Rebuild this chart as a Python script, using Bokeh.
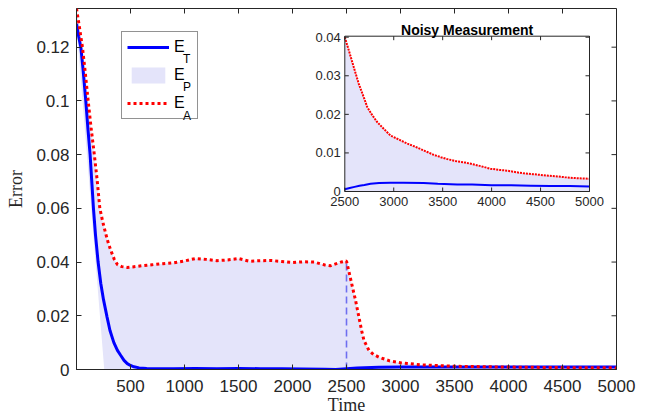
import math
from bokeh.plotting import figure
from bokeh.models import Range1d, FixedTicker, Legend, LegendItem
from bokeh.core.properties import value
from bokeh.embed import file_html
from bokeh.resources import INLINE

# ---------------- main plot data ----------------
T_TRUE = [0, 20, 40, 60, 86, 105, 126, 140, 157, 176, 200, 225, 250, 283, 310,
          346, 379, 410, 440, 470, 500, 532, 580, 650, 750, 900, 1100, 1300,
          1500, 1700, 1900, 2100, 2300, 2400, 2500, 2600, 2800, 3000, 3500,
          4000, 4500, 5000]
E_T = [0.1287, 0.124, 0.120, 0.112, 0.100, 0.090, 0.080, 0.071, 0.060, 0.050,
       0.040, 0.032, 0.026, 0.0195, 0.0145, 0.010, 0.0071, 0.0052, 0.0034,
       0.0022, 0.0015, 0.0010, 0.0006, 0.0004, 0.0003, 0.0003, 0.0004, 0.0003,
       0.0004, 0.0003, 0.0003, 0.0002, 0.0001, 0.0000, 0.0003, 0.0006, 0.0008,
       0.0009, 0.0009, 0.0009, 0.0009, 0.0009]

T_ADAPT = [0, 25, 55, 80, 108, 135, 165, 190, 216, 243, 271, 295, 318, 350,
           380, 420, 470, 520, 600, 700, 800, 900, 1000, 1100, 1200, 1300,
           1400, 1500, 1600, 1700, 1800, 1900, 2000, 2100, 2200, 2300, 2350,
           2400, 2450, 2500, 2555, 2584, 2615, 2640, 2662, 2708, 2750, 2800,
           2900, 3000, 3200, 3500, 4000, 4500, 5000]
E_A = [0.1344, 0.128, 0.120, 0.111, 0.100, 0.090, 0.080, 0.071, 0.060, 0.055,
       0.0505, 0.047, 0.0443, 0.041, 0.039, 0.0383, 0.0380, 0.0382, 0.0386,
       0.0390, 0.0394, 0.0397, 0.0404, 0.0413, 0.0410, 0.0405, 0.0408, 0.0413,
       0.0403, 0.0405, 0.0406, 0.0402, 0.0398, 0.0401, 0.0400, 0.0389, 0.0386,
       0.0393, 0.0400, 0.0404, 0.0307, 0.0257, 0.0195, 0.0145, 0.0108, 0.0071,
       0.0056, 0.0046, 0.0032, 0.0025, 0.0017, 0.0012, 0.0009, 0.0007, 0.0006]

# lower bound of the predicted-error band E_P
T_PLOW = [0, 257, 5000]
E_PLOW = [0.128, 0.0, 0.0]

SWITCH_T = 2500
X_LIM = [0, 5000]

X_TICKS = [500, 1000, 1500, 2000, 2500, 3000, 3500, 4000, 4500, 5000]
X_TICK_LABELS = ["500", "1000", "1500", "2000", "2500", "3000", "3500",
                 "4000", "4500", "5000"]
Y_TICKS = [0, 0.02, 0.04, 0.06, 0.08, 0.1, 0.12]
Y_TICK_LABELS = ["0", "0.02", "0.04", "0.06", "0.08", "0.1", "0.12"]
X_TITLE = "Time"
Y_TITLE = "Error"

LEGEND_BASE = "E"
LEGEND_SUBS = ["T", "P", "A"]

# ---------------- inset data (noisy measurement) ----------------
IN_T_TRUE = [2500, 2550, 2600, 2650, 2700, 2763, 2850, 2967, 3100, 3305, 3450,
             3648, 3800, 4000, 4200, 4400, 4600, 4800, 5000]
IN_E_T = [0.0006, 0.0009, 0.0012, 0.0015, 0.0017, 0.0020, 0.0022, 0.0023,
          0.0023, 0.0022, 0.0020, 0.0018, 0.0018, 0.0016, 0.0016, 0.0015,
          0.0014, 0.0014, 0.0013]
IN_T_ADAPT = [2500, 2541, 2592, 2643, 2700, 2729, 2780, 2831, 2900, 2967, 3050,
              3140, 3220, 3310, 3400, 3480, 3560, 3650, 3730, 3820, 3900,
              3988, 4080, 4160, 4250, 4330, 4420, 4500, 4580, 4670, 4750,
              4840, 4920, 5000]
IN_E_A = [0.0400, 0.0366, 0.0322, 0.0279, 0.0240, 0.0219, 0.0198, 0.0180,
          0.0162, 0.0145, 0.0135, 0.0124, 0.0116, 0.0106, 0.0096, 0.0089,
          0.0083, 0.0078, 0.0075, 0.0070, 0.0065, 0.0059, 0.0056, 0.0054,
          0.0050, 0.0047, 0.0045, 0.0043, 0.0041, 0.0039, 0.0037, 0.0035,
          0.0034, 0.0033]
IN_X_TICKS = [2500, 3000, 3500, 4000, 4500, 5000]
IN_X_TICK_LABELS = ["2500", "3000", "3500", "4000", "4500", "5000"]
IN_Y_TICKS = [0, 0.01, 0.02, 0.03, 0.04]
IN_Y_TICK_LABELS = ["0", "0.01", "0.02", "0.03", "0.04"]
IN_X_LIM = [2500, 5000]
IN_Y_LIM = [0, 0.04026]

TITLE_INSET = "Noisy Measurement"

# ---------------- styles / layout ----------------
AX = "#262626"
BLUE = "#0000ff"
RED = "#ff0000"
FILL = "#e4e4fa"
DASH = "#6e6ef0"
SANS = "Liberation Sans"
SERIF = "Liberation Serif"

W, H = 650, 418
BL, BR, BT, BB = 76, 34, 8, 49
FRAME_W = W - BL - BR
FRAME_H = H - BT - BB
# inset box in pixels, measured from the main frame's left / bottom edges
IN_L, IN_R, IN_B, IN_T = 268.3, 513.0, 178.0, 333.3
# legend placement (pixels from frame left / bottom)
LEG_X, LEG_Y = 45, 250
SUB_X = 106.5
SUB_Y = [311, 283, 254]

Y_MAX = max(E_A)
kx = (IN_R - IN_L) / (IN_X_LIM[1] - IN_X_LIM[0])
ky = (IN_T - IN_B) / (IN_Y_LIM[1] - IN_Y_LIM[0])
in_x_start = IN_X_LIM[0] - IN_L / kx
in_y_start = IN_Y_LIM[0] - IN_B / ky


def style_axis(ax, ticks, labels, size, tick_len, standoff):
    ax.ticker = FixedTicker(ticks=ticks)
    ax.major_label_overrides = dict(zip(ticks, labels))
    ax.axis_line_color = AX
    ax.major_tick_line_color = AX
    ax.major_tick_in = tick_len
    ax.major_tick_out = 0
    ax.minor_tick_line_color = None
    ax.major_label_text_color = AX
    ax.major_label_text_font = SANS
    ax.major_label_text_font_size = size
    ax.major_label_text_line_height = 1.0
    ax.major_label_standoff = standoff


# ---------------- main figure ----------------
p = figure(width=W, height=H, output_backend="svg", toolbar_location=None,
           x_range=Range1d(*X_LIM), y_range=Range1d(0, Y_MAX),
           min_border_left=BL, min_border_right=BR, min_border_top=BT,
           min_border_bottom=BB)
p.grid.visible = False
p.outline_line_color = AX
p.background_fill_color = "white"
p.border_fill_color = "white"
p.extra_x_ranges = {"in": Range1d(in_x_start, in_x_start + FRAME_W / kx)}
p.extra_y_ranges = {"in": Range1d(in_y_start, in_y_start + FRAME_H / ky)}

band_x = T_ADAPT + T_PLOW[::-1]
band_y = E_A + E_PLOW[::-1]
r_band = p.patch(band_x, band_y, fill_color=FILL, line_color=None)

sw_y = E_A[T_ADAPT.index(SWITCH_T)]
p.segment(x0=[SWITCH_T], y0=[0], x1=[SWITCH_T], y1=[sw_y], line_color=DASH,
          line_width=1.6, line_dash="7 4")

r_true = p.line(T_TRUE, E_T, line_color=BLUE, line_width=3)
r_adapt = p.line(T_ADAPT, E_A, line_color=RED, line_width=3, line_dash="3 3")

style_axis(p.xaxis[0], X_TICKS, X_TICK_LABELS, "17px", 5, 10)
style_axis(p.yaxis[0], Y_TICKS, Y_TICK_LABELS, "17px", 5, 7)
p.xaxis.axis_label = X_TITLE
p.yaxis.axis_label = Y_TITLE
for ax in (p.xaxis[0], p.yaxis[0]):
    ax.axis_label_text_font = SERIF
    ax.axis_label_text_font_size = "18px"
    ax.axis_label_text_font_style = "normal"
    ax.axis_label_text_color = AX
    ax.axis_label_text_line_height = 1.0
p.xaxis.axis_label_standoff = 0
p.yaxis.axis_label_standoff = 7

# box ticks on the top and right edges of the main axes
p.ray(x=X_TICKS, y=[Y_MAX] * len(X_TICKS), length=5, length_units="screen",
      angle=-math.pi / 2, line_color=AX, line_width=1)
p.ray(x=[X_LIM[1]] * len(Y_TICKS), y=Y_TICKS, length=5, length_units="screen",
      angle=math.pi, line_color=AX, line_width=1)

# ---------------- inset (drawn on its own ranges) ----------------
kw = dict(x_range_name="in", y_range_name="in")
p.quad(left=[IN_X_LIM[0]], right=[IN_X_LIM[1]], bottom=[IN_Y_LIM[0]],
       top=[IN_Y_LIM[1]], fill_color="white", line_color=None, **kw)
in_band_x = IN_T_ADAPT + IN_T_ADAPT[::-1]
in_band_y = IN_E_A + [0] * len(IN_T_ADAPT)
p.patch(in_band_x, in_band_y, fill_color=FILL, line_color=None, **kw)
p.line(IN_T_TRUE, IN_E_T, line_color=BLUE, line_width=2, **kw)
p.line(IN_T_ADAPT, IN_E_A, line_color=RED, line_width=2, line_dash="2 1", **kw)
p.quad(left=[IN_X_LIM[0]], right=[IN_X_LIM[1]], bottom=[IN_Y_LIM[0]],
       top=[IN_Y_LIM[1]], fill_color=None, line_color=AX, line_width=1, **kw)
nx, ny = len(IN_X_TICKS), len(IN_Y_TICKS)
p.ray(x=IN_X_TICKS, y=[IN_Y_LIM[0]] * nx, length=4, length_units="screen",
      angle=math.pi / 2, line_color=AX, **kw)
p.ray(x=IN_X_TICKS, y=[IN_Y_LIM[1]] * nx, length=4, length_units="screen",
      angle=-math.pi / 2, line_color=AX, **kw)
p.ray(x=[IN_X_LIM[0]] * ny, y=IN_Y_TICKS, length=4, length_units="screen",
      angle=0, line_color=AX, **kw)
p.ray(x=[IN_X_LIM[1]] * ny, y=IN_Y_TICKS, length=4, length_units="screen",
      angle=math.pi, line_color=AX, **kw)
p.text(x=IN_X_TICKS, y=[IN_Y_LIM[0]] * nx, text=IN_X_TICK_LABELS,
       text_font=value(SANS), text_font_size=value("13px"), text_color=AX,
       text_align="center", text_baseline="top", y_offset=5, **kw)
p.text(x=[IN_X_LIM[0]] * ny, y=IN_Y_TICKS, text=IN_Y_TICK_LABELS,
       text_font=value(SANS), text_font_size=value("13px"), text_color=AX,
       text_align="right", text_baseline="middle", x_offset=-4, **kw)
p.text(x=[sum(IN_X_LIM) / 2], y=[IN_Y_LIM[1]], text=[TITLE_INSET],
       text_font=value(SANS), text_font_size=value("14px"),
       text_font_style="bold", text_color="black", text_align="center",
       text_baseline="alphabetic", y_offset=-6, **kw)

# ---------------- legend ----------------
legend = Legend(items=[LegendItem(label=LEGEND_BASE, renderers=[r]) for r in
                       (r_true, r_band, r_adapt)],
                location=(LEG_X, LEG_Y), glyph_width=42, glyph_height=20,
                spacing=8, padding=5, margin=0, label_standoff=5,
                label_width=18, label_height=20,
                label_text_font=SANS, label_text_font_size="16px",
                label_text_color="black",
                border_line_color=AX, border_line_width=1,
                background_fill_color="white", background_fill_alpha=0)
p.add_layout(legend)

# subscripts of the legend labels (pixel offsets converted to main data space)
sub_x = X_LIM[0] + SUB_X / FRAME_W * (X_LIM[1] - X_LIM[0])
sub_y = [v / FRAME_H * Y_MAX for v in SUB_Y]
p.text(x=[sub_x] * 3, y=sub_y, text=LEGEND_SUBS, text_font=value(SANS),
       text_font_size=value("12px"), text_color="black",
       text_baseline="alphabetic", text_align="left")

open("out.html", "w").write(file_html(p, INLINE))
